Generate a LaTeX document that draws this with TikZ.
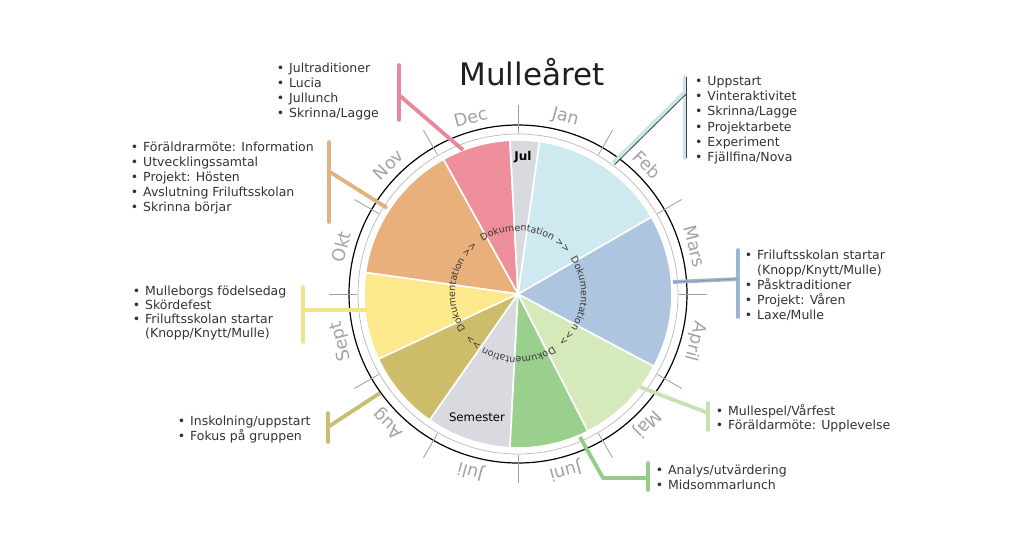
\documentclass[tikz,border=0pt]{standalone}
\usepackage{fontspec}
\setmainfont{DejaVu Sans}
\usetikzlibrary{decorations.text,calc}
\definecolor{cPink}{HTML}{EF8F9B}
\definecolor{cOrange}{HTML}{E9B07B}
\definecolor{cYellow}{HTML}{FCE98C}
\definecolor{cOlive}{HTML}{CDBD6A}
\definecolor{cSem}{HTML}{D9DADF}
\definecolor{cGreen}{HTML}{9AD08D}
\definecolor{cLGreen}{HTML}{D6E9BA}
\definecolor{cBlue}{HTML}{AEC5DF}
\definecolor{cCyan}{HTML}{CEE9EF}
\definecolor{lPink}{HTML}{E8899A}
\definecolor{lOrange}{HTML}{DFB27F}
\definecolor{lYellow}{HTML}{F0E38E}
\definecolor{lOlive}{HTML}{C9BD72}
\definecolor{lGreen}{HTML}{97CB8C}
\definecolor{lLGreen}{HTML}{C9E2B1}
\definecolor{lBlue}{HTML}{9DB4D2}
\definecolor{lCyan}{HTML}{C8E5EC}
\definecolor{txt}{HTML}{333333}
\definecolor{mon}{HTML}{A3A3A3}
\definecolor{doc}{HTML}{3A3A3A}
\begin{document}
\begin{tikzpicture}[x=1pt,y=1pt,
  wedge/.style={draw=white,line width=1.6pt,line join=round},
  lead/.style={line width=3.8pt},
  bar/.style={line width=3.6pt,line cap=round},
  lst/.style={anchor=north west,inner sep=0pt,text=txt,font=\fontsize{12.5}{#1}\selectfont},
  month/.style={text=mon,font=\fontsize{17.5}{18}\selectfont,inner sep=0pt},
  ticko/.style={draw=gray!75,line width=0.8pt}]
\useasboundingbox (0,0) rectangle (1024,-550);
\fill[white] (0,0) rectangle (1024,-550);
\coordinate (C) at (518,-294);
\begin{scope}[shift={(C)}]
  \filldraw[wedge,fill=cPink]   (0,0) -- (93:154)  arc[start angle=93,end angle=119,radius=154] -- cycle;
  \filldraw[wedge,fill=cOrange] (0,0) -- (119:154) arc[start angle=119,end angle=172,radius=154] -- cycle;
  \filldraw[wedge,fill=cYellow] (0,0) -- (172:154) arc[start angle=172,end angle=205,radius=154] -- cycle;
  \filldraw[wedge,fill=cOlive]  (0,0) -- (205:154) arc[start angle=205,end angle=235,radius=154] -- cycle;
  \filldraw[wedge,fill=cSem]    (0,0) -- (235:154) arc[start angle=235,end angle=267,radius=154] -- cycle;
  \filldraw[wedge,fill=cGreen]  (0,0) -- (267:154) arc[start angle=267,end angle=297,radius=154] -- cycle;
  \filldraw[wedge,fill=cLGreen] (0,0) -- (-63:154) arc[start angle=-63,end angle=-28,radius=154] -- cycle;
  \filldraw[wedge,fill=cBlue]   (0,0) -- (-28:154) arc[start angle=-28,end angle=30,radius=154] -- cycle;
  \filldraw[wedge,fill=cCyan]   (0,0) -- (30:154)  arc[start angle=30,end angle=82,radius=154] -- cycle;
  \filldraw[wedge,fill=cSem]    (0,0) -- (82:154)  arc[start angle=82,end angle=93,radius=154] -- cycle;
  \draw[black,line width=1.2pt] (0,0) circle[radius=169];
  \draw[gray!55,line width=0.7pt] (0,0) circle[radius=160];
  \foreach \a in {0,30,...,330} \draw[ticko] (\a:161) -- (\a:189);
  \foreach \m/\a in {Jan/75,Feb/45,Mars/15,April/-15,Maj/-45,Juni/-75,Juli/-105,Aug/-135,Sept/-165,Okt/165,Nov/135,Dec/105}
    \node[month,rotate=\a-90] (m\m) at (\a:183) {\m};
  \foreach \s in {124,34,-56,-146}
    \path[decorate,decoration={text along path,text align=left,
      text={|\fontsize{9.5}{10}\selectfont\color{doc}|Dokumentation  >>}}]
      (\s:63) arc[start angle=\s,end angle=\s-86,radius=63];
\end{scope}
\node[font=\bfseries\fontsize{12}{12}\selectfont,text=black] (jul) at (523,-157) {Jul};
\node[font=\fontsize{11.7}{12}\selectfont,text=black] (sem) at (477,-417) {Semester};
\node[font=\fontsize{31}{31}\selectfont,text=black!88] (title) at (532,-72) {Mulleåret};
% leaders
\coordinate (pA) at (463,-150); \coordinate (pB) at (399,-95);
\coordinate (pT) at (399,-65);  \coordinate (pU) at (399,-120);
\coordinate (oA) at (387,-208); \coordinate (oB) at (330,-172);
\coordinate (oT) at (329,-142); \coordinate (oU) at (329,-222);
\coordinate (yA) at (367,-310); \coordinate (yB) at (303,-310);
\coordinate (yT) at (303,-287); \coordinate (yU) at (303,-342);
\coordinate (vA) at (380,-393); \coordinate (vB) at (328,-427);
\coordinate (vT) at (328,-413); \coordinate (vU) at (328,-442);
\coordinate (gA) at (580,-437); \coordinate (gM) at (603,-478); \coordinate (gB) at (648,-478);
\coordinate (gT) at (648,-463); \coordinate (gU) at (648,-490);
\coordinate (hA) at (640,-387); \coordinate (hB) at (708,-413);
\coordinate (hT) at (708,-403); \coordinate (hU) at (708,-430);
\coordinate (bA) at (673,-282); \coordinate (bB) at (738,-279);
\coordinate (bT) at (738,-250); \coordinate (bU) at (738,-317);
\coordinate (cA) at (613,-163); \coordinate (cB) at (685,-92);
\coordinate (cT) at (685,-77);  \coordinate (cU) at (685,-158);
\draw[lead,lPink] (pA) -- (pB);   \draw[bar,lPink] (pT) -- (pU);
\draw[lead,lOrange] (oA) -- (oB); \draw[bar,lOrange] (oT) -- (oU);
\draw[lead,lYellow] (yA) -- (yB); \draw[bar,lYellow] (yT) -- (yU);
\draw[lead,lOlive] (vA) -- (vB);  \draw[bar,lOlive] (vT) -- (vU);
\draw[lead,lGreen,line join=round] (gA) -- (gM) -- (gB); \draw[bar,lGreen] (gT) -- (gU);
\draw[lead,lLGreen] (hA) -- (hB); \draw[bar,lLGreen] (hT) -- (hU);
\draw[lead,lBlue] (bA) -- (bB);   \draw[bar,lBlue] (bT) -- (bU);
\draw[gray!60!lBlue,line width=0.8pt] (bA) -- (bB);
\draw[lead,lCyan] (cA) -- (cB);   \draw[bar,lCyan] (cT) -- (cU);
\draw[gray!50!black,line width=0.8pt,transform canvas={shift={(1.6pt,-1.6pt)}}] (cA) -- (cB);
\draw[gray!50!black,line width=0.6pt,transform canvas={shift={(0.8pt,0pt)}}] (cT) -- (cU);
% lists
\node[lst=15] (lDec) at (276.6,-61.7) {\begin{tabular}{@{}l@{\hspace{5pt}}l@{}}
  •&Jultraditioner\\•&Lucia\\•&Jullunch\\•&Skrinna/Lagge\end{tabular}};
\node[lst=15] (lNov) at (130.6,-140.7) {\begin{tabular}{@{}l@{\hspace{5pt}}l@{}}
  •&Föräldrarmöte: Information\\•&Utvecklingssamtal\\•&Projekt: Hösten\\•&Avslutning Friluftsskolan\\•&Skrinna börjar\end{tabular}};
\node[lst=14] (lSep) at (132.6,-285.4) {\begin{tabular}{@{}l@{\hspace{5pt}}l@{}}
  •&Mulleborgs födelsedag\\•&Skördefest\\•&Friluftsskolan startar\\&(Knopp/Knytt/Mulle)\end{tabular}};
\node[lst=14.3] (lAug) at (177.6,-415.2) {\begin{tabular}{@{}l@{\hspace{5pt}}l@{}}
  •&Inskolning/uppstart\\•&Fokus på gruppen\end{tabular}};
\node[lst=14.3] (lJun) at (655.6,-464.5) {\begin{tabular}{@{}l@{\hspace{5pt}}l@{}}
  •&Analys/utvärdering\\•&Midsommarlunch\end{tabular}};
\node[lst=14] (lMaj) at (715.6,-404.7) {\begin{tabular}{@{}l@{\hspace{5pt}}l@{}}
  •&Mullespel/Vårfest\\•&Föräldarmöte: Upplevelse\end{tabular}};
\node[lst=14.4] (lApr) at (744.6,-249.4) {\begin{tabular}{@{}l@{\hspace{5pt}}l@{}}
  •&Friluftsskolan startar\\&(Knopp/Knytt/Mulle)\\•&Påsktraditioner\\•&Projekt: Våren\\•&Laxe/Mulle\end{tabular}};
\node[lst=15.2] (lFeb) at (694.9,-74.6) {\begin{tabular}{@{}l@{\hspace{5pt}}l@{}}
  •&Uppstart\\•&Vinteraktivitet\\•&Skrinna/Lagge\\•&Projektarbete\\•&Experiment\\•&Fjällfina/Nova\end{tabular}};
\end{tikzpicture}
\end{document}
